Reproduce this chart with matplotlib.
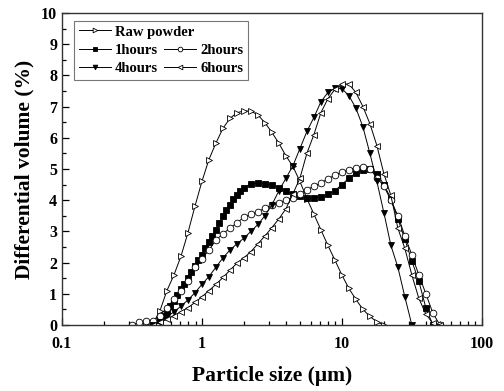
import matplotlib
matplotlib.use('Agg')
import matplotlib.pyplot as plt
import numpy as np
from matplotlib.lines import Line2D
from matplotlib.ticker import LogLocator, NullFormatter, MultipleLocator

# particle size classes (um)
sizes = [0.316, 0.355, 0.398, 0.447, 0.501, 0.562, 0.631, 0.708, 0.794, 0.891,
         1.000, 1.122, 1.259, 1.413, 1.585, 1.778, 1.995, 2.239, 2.512, 2.818,
         3.162, 3.548, 3.981, 4.467, 5.012, 5.623, 6.310, 7.079, 7.943, 8.913,
         10.00, 11.22, 12.59, 14.13, 15.85, 17.78, 19.95, 22.39, 25.12, 28.18,
         31.62, 35.48, 39.81, 44.67, 50.12]
nan = np.nan

raw_powder = [nan, nan, 0.0, 0.05, 0.45, 1.1, 1.6, 2.2, 2.95, 3.8,
              4.6, 5.3, 5.83, 6.3, 6.62, 6.8, 6.86, 6.85, 6.73, 6.48,
              6.17, 5.82, 5.42, 5.08, 4.6, 4.05, 3.55, 3.05, 2.55, 2.08,
              1.6, 1.17, 0.82, 0.5, 0.27, 0.1, 0.0, nan, nan, nan,
              nan, nan, nan, nan, nan]

# 1 hour sample was measured on a finer grid
sizes_h1 = [0.447, 0.501, 0.531, 0.562, 0.596, 0.631, 0.668, 0.708, 0.750, 0.794,
            0.841, 0.891, 0.944, 1.000, 1.059, 1.122, 1.189, 1.259, 1.334, 1.413,
            1.496, 1.585, 1.679, 1.778, 1.884, 1.995, 2.239, 2.512, 2.818, 3.162,
            3.548, 3.981, 4.467, 5.012, 5.623, 6.310, 7.079, 7.943, 8.913, 10.00,
            11.22, 12.59, 14.13, 15.85, 17.78, 19.95, 22.39, 25.12, 28.18, 31.62,
            35.48, 39.81, 44.67]
h1 = [0.0, 0.15, 0.3, 0.45, 0.6, 0.78, 0.95, 1.15, 1.32, 1.5,
      1.7, 1.9, 2.07, 2.25, 2.45, 2.65, 2.85, 3.05, 3.28, 3.5,
      3.68, 3.85, 4.02, 4.17, 4.3, 4.4, 4.52, 4.55, 4.52, 4.47,
      4.4, 4.3, 4.2, 4.12, 4.08, 4.07, 4.1, 4.18, 4.3, 4.5,
      4.7, 4.87, 4.97, 5.0, 4.85, 4.5, 4.05, 3.4, 2.75, 2.05,
      1.4, 0.55, 0.0]
h2 = [0.0, 0.08, 0.13, 0.12, 0.3, 0.55, 0.82, 1.1, 1.42, 1.85,
      2.12, 2.4, 2.72, 2.92, 3.1, 3.27, 3.45, 3.55, 3.63, 3.74,
      3.85, 3.92, 4.0, 4.08, 4.2, 4.33, 4.45, 4.55, 4.68, 4.8,
      4.9, 4.98, 5.04, 5.06, 5.0, 4.72, 4.45, 4.0, 3.5, 2.85,
      2.24, 1.6, 1.0, 0.38, 0.0]
h4 = [nan, nan, nan, 0.0, 0.1, 0.26, 0.42, 0.6, 0.8, 1.03,
      1.3, 1.55, 1.85, 2.15, 2.4, 2.6, 2.78, 3.0, 3.22, 3.5,
      3.85, 4.3, 4.7, 5.1, 5.65, 6.2, 6.65, 7.15, 7.45, 7.58,
      7.57, 7.35, 6.95, 6.35, 5.5, 4.6, 3.6, 2.55, 1.85, 0.9,
      0.0, nan, nan, nan, nan]
h6 = [nan, nan, nan, 0.0, 0.08, 0.18, 0.3, 0.42, 0.55, 0.72,
      0.9, 1.1, 1.3, 1.52, 1.75, 1.98, 2.15, 2.35, 2.6, 2.85,
      3.12, 3.4, 3.72, 4.2, 4.7, 5.5, 6.1, 6.8, 7.25, 7.55,
      7.72, 7.72, 7.45, 7.0, 6.45, 5.75, 4.85, 4.15, 3.1, 2.45,
      1.6, 0.85, 0.35, 0.05, 0.0]

plt.rcParams['font.family'] = ['Liberation Serif', 'DejaVu Serif']
plt.rcParams['font.weight'] = 'bold'

fig = plt.figure(figsize=(5.04, 3.91), dpi=100)
ax = fig.add_axes([0.123, 0.169, 0.833, 0.798])

ms = 4.8
common = dict(color='k', lw=0.7, markersize=ms, markeredgewidth=0.6, markeredgecolor='k')
l_raw, = ax.plot(sizes, raw_powder, marker='>', markerfacecolor='white', label='Raw powder', **common)
l_1, = ax.plot(sizes_h1, h1, marker='s', markerfacecolor='black', label='1hours', **common)
l_2, = ax.plot(sizes, h2, marker='o', markerfacecolor='white', label='2hours', **common)
l_4, = ax.plot(sizes, h4, marker='v', markerfacecolor='black', label='4hours', **common)
l_6, = ax.plot(sizes, h6, marker='<', markerfacecolor='white', label='6hours', **common)

ax.set_xscale('log')
ax.set_xlim(0.1, 100)
ax.set_ylim(0, 10)
ax.set_xticks([0.1, 1, 10, 100])
ax.set_xticklabels(['0.1', '1', '10', '100'])
ax.xaxis.set_minor_locator(LogLocator(base=10, subs=np.arange(2, 10)))
ax.xaxis.set_minor_formatter(NullFormatter())
ax.yaxis.set_major_locator(MultipleLocator(1))
ax.yaxis.set_minor_locator(MultipleLocator(0.5))

ax.tick_params(which='both', direction='in', top=False, right=False, labelsize=11.5, width=0.9)
ax.tick_params(which='major', length=5)
ax.tick_params(which='minor', length=3)
ax.tick_params(axis='x', pad=8)
for s in ax.spines.values():
    s.set_linewidth(1.0)
    s.set_color('#333333')

ax.set_xlabel('Particle size (\u03bcm)', fontsize=15.5, fontweight='bold', labelpad=10)
ax.set_ylabel('Differential volume (%)', fontsize=15.5, fontweight='bold', labelpad=5)

# raw powder spans the first row, the other four sit in two columns below
blank = Line2D([], [], linestyle='none', marker=None)
leg = ax.legend([l_raw, l_1, l_4, blank, l_2, l_6],
                ['Raw powder', '1hours', '4hours', '', '2hours', '6hours'],
                ncol=2, loc='upper left', bbox_to_anchor=(0.029, 0.974),
                borderaxespad=0, frameon=True, fancybox=False, edgecolor='#555555',
                handlelength=2.2, handletextpad=0.3, columnspacing=-2.1,
                labelspacing=0.35, borderpad=0.3, markerscale=0.7,
                prop={'weight': 'bold', 'size': 10.5})
leg.get_frame().set_linewidth(0.8)

fig.savefig('out.png', dpi=100)
